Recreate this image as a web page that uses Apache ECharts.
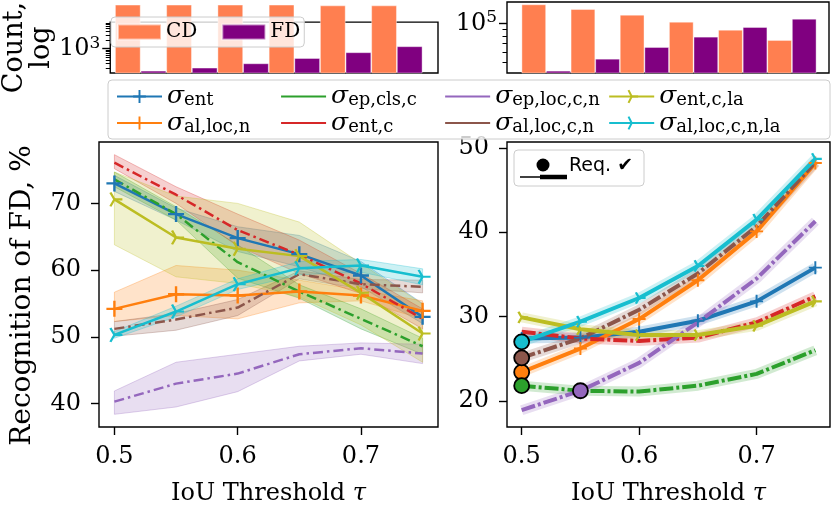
<!DOCTYPE html>
<html><head><meta charset="utf-8">
<script src="https://cdn.jsdelivr.net/npm/echarts@6/dist/echarts.min.js"></script>
<style>html,body{margin:0;padding:0;background:#fff}#c{width:832px;height:511px}</style>
</head><body><div id="c"></div>
<script>
const SERIF = 'DejaVu Serif';
const tau = [0.5, 0.55, 0.6, 0.65, 0.7, 0.75];
const xTickValues = [0.5, 0.6, 0.7];
const leftYTicks = [40, 50, 60, 70];
const rightYTicks = [20, 30, 40, 50];
const names = ['ent', 'al,loc,n', 'ep,cls,c', 'ent,c', 'ep,loc,c,n', 'al,loc,c,n', 'ent,c,la', 'al,loc,c,n,la'];

// Left panel: Recognition of FD, %
const leftEnt       = [73.0, 68.4, 64.8, 62.4, 59.2, 53.0];
const leftAlLocN    = [54.2, 56.4, 56.2, 56.8, 56.2, 53.9];
const leftEpClsC    = [73.6, 68.4, 61.2, 56.8, 52.7, 48.6];
const leftEntC      = [76.1, 71.3, 66.0, 62.3, 58.0, 52.7];
const leftEpLocCN   = [40.3, 43.0, 44.5, 47.4, 48.3, 47.5];
const leftAlLocCN   = [51.2, 52.6, 54.4, 59.4, 57.9, 57.5];
const leftEntCLa    = [70.6, 64.9, 63.2, 62.1, 56.6, 50.5];
const leftAlLocCNLa = [50.3, 53.8, 57.9, 60.3, 60.7, 59.0];

// Left panel bands (low / high)
const loEnt = [71.8, 67.5, 62.8, 60.5, 57.5, 52.0];
const hiEnt = [74.2, 69.3, 66.5, 65.2, 61.3, 55.0];
const loAlLocN = [52.3, 53.2, 52.7, 55.1, 55.4, 52.7];
const hiAlLocN = [56.7, 60.7, 60.0, 58.5, 57.0, 55.4];
const loEpClsC = [72.5, 67.5, 58.8, 55.8, 51.2, 47.4];
const hiEpClsC = [74.7, 69.5, 63.8, 57.8, 54.2, 49.8];
const loEntC = [75.2, 70.0, 63.6, 59.5, 56.5, 51.2];
const hiEntC = [77.3, 72.5, 68.4, 64.5, 59.5, 54.2];
const loEpLocCN = [38.4, 39.5, 41.8, 46.4, 47.4, 46.0];
const hiEpLocCN = [41.9, 46.2, 47.4, 48.6, 49.1, 48.9];
const loAlLocCN = [50.1, 51.0, 53.2, 58.7, 57.2, 56.6];
const hiAlLocCN = [52.3, 53.5, 55.6, 59.9, 58.6, 58.5];
const loEntCLa = [63.8, 59.0, 58.0, 56.0, 51.8, 46.2];
const hiEntCLa = [74.7, 71.1, 70.0, 67.2, 61.0, 54.9];
const loAlLocCNLa = [49.8, 53.0, 57.1, 59.3, 59.7, 57.8];
const hiAlLocCNLa = [50.8, 54.6, 58.7, 61.3, 61.6, 60.2];

// Right panel
const rightEnt       = [27.4, 27.5, 28.2, 29.5, 31.8, 35.8];
const rightAlLocN    = [23.4, 26.2, 29.7, 34.3, 40.1, 48.2];
const rightEpClsC    = [21.8, 21.2, 21.1, 21.8, 23.2, 26.0];
const rightEntC      = [28.2, 27.4, 27.1, 27.5, 29.3, 32.4];
const rightEpLocCN   = [18.9, 21.2, 24.5, 29.3, 34.5, 41.3];
const rightAlLocCN   = [25.1, 27.4, 30.8, 35.1, 40.7, 48.3];
const rightEntCLa    = [29.9, 28.5, 27.8, 27.8, 28.9, 31.8];
const rightAlLocCNLa = [27.0, 29.4, 32.2, 36.0, 41.5, 48.7];
// index of the point marked "Req." per series (null = none)
const reqIndex = [null, 0, 0, null, 1, 0, null, 0];

// Histograms (log counts)
const histBins = ['0.50', '0.55', '0.60', '0.65', '0.70', '0.75'];
const cdCountLeft  = [7200, 7200, 7200, 7200, 6900, 6900];
const fdCountLeft  = [161, 192, 246, 333, 465, 657];
const cdCountRight = [140000, 128800, 116500, 102900, 89300, 74400];
const fdCountRight = [43200, 53400, 65700, 78900, 93700, 108500];
const histLeftMajor = [1000];
const histLeftMinor = [200, 300, 400, 500, 600, 700, 800, 900, 2000, 3000, 4000, 5000, 6000, 7000, 8000];
const histRightMajor = [100000];
const histRightMinor = [50000, 60000, 70000, 80000, 90000];

const colors = ['#1f77b4', '#ff7f0e', '#2ca02c', '#d62728', '#9467bd', '#8c564b', '#bcbd22', '#17becf'];
const dashed = [false, false, true, true, true, true, false, false];
const marker = ['plus', 'plus', 'none', 'none', 'none', 'none', 'tri', 'tri'];
const legendOrder = [0, 2, 4, 6, 1, 3, 5, 7];
const PLUS = 'path://M-1.2,-8L1.2,-8L1.2,-1.2L8,-1.2L8,1.2L1.2,1.2L1.2,8L-1.2,8L-1.2,1.2L-8,1.2L-8,-1.2L-1.2,-1.2Z';
const TRI = 'path://M0,0L9,0M0,0L-4.5,7.8M0,0L-4.5,-7.8M-9,0L-9,0';

const leftData = [leftEnt, leftAlLocN, leftEpClsC, leftEntC, leftEpLocCN, leftAlLocCN, leftEntCLa, leftAlLocCNLa];
const loData = [loEnt, loAlLocN, loEpClsC, loEntC, loEpLocCN, loAlLocCN, loEntCLa, loAlLocCNLa];
const hiData = [hiEnt, hiAlLocN, hiEpClsC, hiEntC, hiEpLocCN, hiAlLocCN, hiEntCLa, hiAlLocCNLa];
const rightData = [rightEnt, rightAlLocN, rightEpClsC, rightEntC, rightEpLocCN, rightAlLocCN, rightEntCLa, rightAlLocCNLa];

function rgba(hex, a) {
  const n = parseInt(hex.slice(1), 16);
  return 'rgba(' + (n >> 16) + ',' + ((n >> 8) & 255) + ',' + (n & 255) + ',' + a + ')';
}

const black = '#000';
const tickStyle = {color: black, width: 1.4};
const labelStyle = {color: black, fontSize: 24, fontFamily: SERIF};

function mainX(gi) {
  return {
    type: 'value', gridIndex: gi, min: 0.4875, max: 0.7625,
    axisLine: {show: false}, splitLine: {show: false},
    axisTick: {show: true, customValues: xTickValues, length: 8, lineStyle: tickStyle},
    axisLabel: Object.assign({customValues: xTickValues, margin: 18, formatter: v => String(v)}, labelStyle),
    name: '{a|IoU Threshold }{t|τ}', nameLocation: 'middle', nameGap: 55,
    nameTextStyle: {rich: {a: {fontSize: 24, fontFamily: SERIF, color: black},
                           t: {fontSize: 24, fontFamily: SERIF, fontStyle: 'italic', color: black}}}
  };
}
function mainY(gi, min, max, ticks, name) {
  const ax = {
    type: 'value', gridIndex: gi, min: min, max: max,
    axisLine: {show: false}, splitLine: {show: false},
    axisTick: {show: true, customValues: ticks, length: 8, lineStyle: tickStyle},
    axisLabel: Object.assign({customValues: ticks, margin: 18}, labelStyle)
  };
  if (name) {
    ax.name = name; ax.nameLocation = 'middle'; ax.nameGap = 62; ax.nameRotate = 90;
    ax.nameTextStyle = {fontSize: 28, fontFamily: SERIF, color: black, padding: [0, 22, 0, 0]};
  }
  return ax;
}
function logFrameY(gi, min, max, major, name) {
  const ax = {
    type: 'log', gridIndex: gi, min: min, max: max, position: 'left',
    axisLine: {show: false}, splitLine: {show: false},
    axisTick: {show: true, customValues: major, length: 8, lineStyle: tickStyle},
    axisLabel: {customValues: major, margin: 10, color: black,
      formatter: v => '{a|10}{s|' + Math.round(Math.log10(v)) + '}',
      rich: {a: {fontSize: 24, fontFamily: SERIF, color: black, lineHeight: 28},
             s: {fontSize: 17, fontFamily: SERIF, color: black, lineHeight: 16, verticalAlign: 'top'}}}
  };
  if (name) {
    ax.name = name; ax.nameLocation = 'middle'; ax.nameGap = 48; ax.nameRotate = 90;
    ax.nameTextStyle = {fontSize: 27, fontFamily: SERIF, color: black, lineHeight: 27};
  }
  return ax;
}
function logMinorY(gi, min, max, minor) {
  return {
    type: 'log', gridIndex: gi, min: min, max: max, position: 'left',
    axisLine: {show: false}, splitLine: {show: false}, axisLabel: {show: false},
    axisTick: {show: true, customValues: minor, length: 4.5, lineStyle: {color: black, width: 1}}
  };
}

const frame = {show: true, borderColor: black, borderWidth: 1.4, backgroundColor: 'transparent'};
const grids = [
  Object.assign({left: 99, top: 142, width: 339, height: 295}, frame),
  Object.assign({left: 507, top: 142, width: 323, height: 295}, frame),
  Object.assign({left: 100, top: 2, width: 338, height: 71}, frame),
  {left: 115, top: 2, width: 307.5, height: 71},
  Object.assign({left: 507, top: 2, width: 322, height: 71}, frame),
  {left: 521.5, top: 2, width: 295, height: 71}
];

const xAxes = [
  mainX(0), mainX(1),
  {type: 'value', gridIndex: 2, min: 0, max: 1, show: false},
  {type: 'category', gridIndex: 3, data: histBins, show: false},
  {type: 'value', gridIndex: 4, min: 0, max: 1, show: false},
  {type: 'category', gridIndex: 5, data: histBins, show: false}
];
const yAxes = [
  mainY(0, 36.5, 79.2, leftYTicks, 'Recognition of FD, %'),
  mainY(1, 16.9, 50.7, rightYTicks, null),
  logFrameY(2, 141, 8414, histLeftMajor, 'Count,\nlog'),
  logMinorY(2, 141, 8414, histLeftMinor),
  {type: 'log', gridIndex: 3, min: 141, max: 8414, show: false, splitLine: {show: false}},
  logFrameY(4, 41500, 146000, histRightMajor, null),
  logMinorY(4, 41500, 146000, histRightMinor),
  {type: 'log', gridIndex: 5, min: 41500, max: 146000, show: false, splitLine: {show: false}}
];

const series = [];
// left uncertainty bands, drawn as one polygon per series through the axes' scales
for (let i = 0; i < 8; i++) {
  series.push({
    type: 'custom', xAxisIndex: 0, yAxisIndex: 0, silent: true, z: 1, clip: true,
    data: tau.map((t, j) => [t, loData[i][j], hiData[i][j]]),
    encode: {x: 0, y: [1, 2]},
    renderItem: (params, api) => {
      if (params.dataIndex !== 0) return null;
      const pts = [];
      for (let j = 0; j < tau.length; j++) pts.push(api.coord([tau[j], hiData[i][j]]));
      for (let j = tau.length - 1; j >= 0; j--) pts.push(api.coord([tau[j], loData[i][j]]));
      return {type: 'polygon', shape: {points: pts},
              style: {fill: rgba(colors[i], 0.22), stroke: rgba(colors[i], 0.3), lineWidth: 1}};
    }
  });
}
function mainLine(i, axis, arr, width, msize, dash) {
  const m = marker[i];
  return {
    type: 'line', name: names[i], xAxisIndex: axis, yAxisIndex: axis, z: 3,
    data: tau.map((t, j) => [t, arr[j]]),
    symbol: m === 'plus' ? PLUS : (m === 'tri' ? TRI : 'circle'),
    symbolSize: m === 'tri' ? [msize, msize * 0.87] : msize,
    showSymbol: m !== 'none',
    lineStyle: {color: colors[i], width: width, type: dashed[i] ? dash : 'solid'},
    itemStyle: m === 'tri' ? {color: colors[i], borderColor: colors[i], borderWidth: 2.2}
             : (m === 'plus' ? {color: colors[i], borderWidth: 0}
                             : {color: colors[i], borderWidth: 0, opacity: 0}),
    emphasis: {disabled: true}
  };
}
for (let i = 0; i < 8; i++) series.push(mainLine(i, 0, leftData[i], 2.5, 16, [10, 4, 2.5, 4]));
// right translucent bands
for (let i = 0; i < 8; i++) {
  series.push({type: 'line', xAxisIndex: 1, yAxisIndex: 1, symbol: 'none', silent: true, z: 1,
    data: tau.map((t, j) => [t, rightData[i][j]]),
    lineStyle: {color: colors[i], width: 10, opacity: 0.22}});
}
for (let i = 0; i < 8; i++) series.push(mainLine(i, 1, rightData[i], 4, 13, [14, 3, 3, 3]));
// requirement points
const reqPts = [];
reqIndex.forEach((k, i) => {
  if (k !== null) reqPts.push({value: [tau[k], rightData[i][k]], itemStyle: {color: colors[i]}});
});
series.push({type: 'scatter', xAxisIndex: 1, yAxisIndex: 1, data: reqPts, symbolSize: 15, z: 10,
  itemStyle: {borderColor: black, borderWidth: 1.8, opacity: 1}});
// histograms
const barStyle = (c) => ({color: c, borderColor: 'rgba(255,255,255,0.5)', borderWidth: 0.8});
series.push({type: 'bar', name: 'CD', xAxisIndex: 3, yAxisIndex: 4, data: cdCountLeft, barGap: '0%', barCategoryGap: '0%', clip: true, itemStyle: barStyle('#ff7f50')});
series.push({type: 'bar', name: 'FD', xAxisIndex: 3, yAxisIndex: 4, data: fdCountLeft, barGap: '0%', barCategoryGap: '0%', clip: true, itemStyle: barStyle('#800080')});
series.push({type: 'bar', name: 'CD', xAxisIndex: 5, yAxisIndex: 7, data: cdCountRight, barGap: '0%', barCategoryGap: '0%', clip: true, itemStyle: barStyle('#ff7f50')});
series.push({type: 'bar', name: 'FD', xAxisIndex: 5, yAxisIndex: 7, data: fdCountRight, barGap: '0%', barCategoryGap: '0%', clip: true, itemStyle: barStyle('#800080')});

const legends = [{
  data: legendOrder.map(i => names[i]), orient: 'horizontal', left: 116, top: 84, width: 790,
  itemWidth: 45, itemHeight: 16, itemGap: 1, padding: 0, selectedMode: false,
  lineStyle: {type: 'solid'},
  formatter: n => '{s|σ}{b|' + n + '}',
  textStyle: {rich: {
    s: {fontFamily: SERIF, fontStyle: 'italic', fontSize: 25, lineHeight: 26, color: black},
    b: {fontFamily: SERIF, fontSize: 18, lineHeight: 10, verticalAlign: 'bottom', color: black, width: 95}
  }}
}, {
  data: ['CD', 'FD'], left: 111, top: 17, icon: 'rect', itemWidth: 43, itemHeight: 15, itemGap: 24,
  padding: [5, 4, 5, 6], backgroundColor: 'rgba(255,255,255,0.8)', borderColor: '#cccccc', borderWidth: 1,
  borderRadius: 4, selectedMode: false, z: 10,
  textStyle: {fontFamily: SERIF, fontSize: 20, color: black}
}];

const graphic = {elements: [
  {type: 'rect', shape: {x: 108, y: 80, width: 722, height: 59, r: 4},
   style: {fill: 'rgba(255,255,255,0.8)', stroke: '#cccccc', lineWidth: 1}, z: 1},
  {type: 'rect', shape: {x: 514, y: 150, width: 130, height: 36, r: 4},
   style: {fill: 'rgba(255,255,255,0.8)', stroke: '#cccccc', lineWidth: 1}, z: 50},
  {type: 'line', shape: {x1: 520, y1: 177, x2: 541, y2: 177}, style: {stroke: black, lineWidth: 1.5}, z: 51},
  {type: 'line', shape: {x1: 540, y1: 177, x2: 567, y2: 177}, style: {stroke: black, lineWidth: 4.5}, z: 51},
  {type: 'circle', shape: {cx: 543, cy: 165, r: 6.5}, style: {fill: black}, z: 51},
  {type: 'text', style: {x: 569, y: 166, text: 'Req. ✔', fontSize: 19, fontFamily: 'DejaVu Sans', fill: black, verticalAlign: 'middle'}, z: 51}
]};

const chart = echarts.init(document.getElementById('c'), null, {renderer: 'canvas'});
chart.setOption({
  animation: false,
  textStyle: {fontFamily: SERIF},
  grid: grids, xAxis: xAxes, yAxis: yAxes,
  legend: legends, graphic: graphic, series: series
});
</script></body></html>
